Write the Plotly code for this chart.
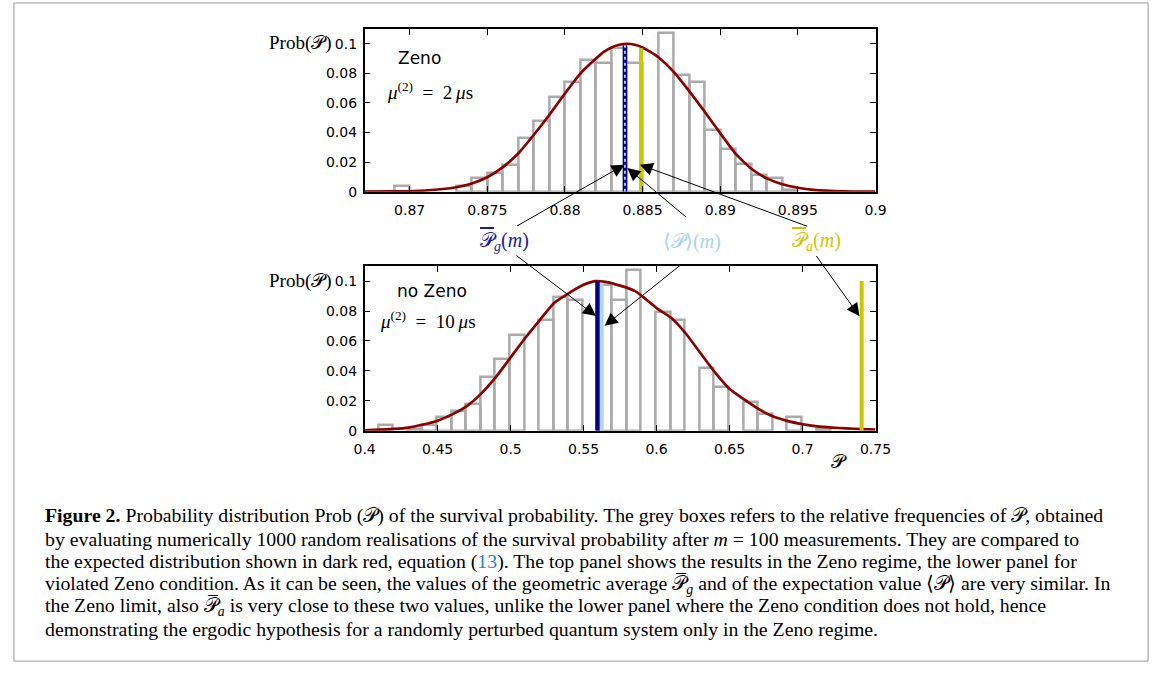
import plotly.graph_objects as go

W, H = 1168, 677
CAL_P = "𝒫"

# ---------------- data: top panel (Zeno, mu2 = 2 us) ----------------
top_bin_left = [0.869, 0.873, 0.874, 0.875, 0.876, 0.877, 0.878, 0.879, 0.880, 0.881,
                0.882, 0.883, 0.884, 0.886, 0.887, 0.888, 0.889, 0.890, 0.891, 0.892,
                0.893, 0.894]
top_freq = [0.004, 0.004, 0.009, 0.013, 0.018, 0.036, 0.048, 0.064, 0.074, 0.089,
            0.087, 0.097, 0.087, 0.107, 0.079, 0.074, 0.042, 0.029, 0.019, 0.011,
            0.009, 0.0015]
top_bin_width = 0.001
top_curve_x = [0.8671, 0.869, 0.871, 0.873, 0.874, 0.875, 0.876, 0.877, 0.878, 0.879,
               0.880, 0.881, 0.882, 0.8825, 0.883, 0.8835, 0.884, 0.8845, 0.885, 0.8855,
               0.886, 0.887, 0.888, 0.889, 0.890, 0.891, 0.892, 0.893, 0.894, 0.895,
               0.896, 0.898, 0.900]
top_curve_y = [0.0, 0.0002, 0.0008, 0.003, 0.0056, 0.0098, 0.0166, 0.026, 0.0385, 0.052,
               0.0664, 0.080, 0.090, 0.0945, 0.0975, 0.0993, 0.100, 0.0993, 0.0975, 0.0945,
               0.091, 0.081, 0.068, 0.054, 0.0395, 0.0255, 0.0155, 0.009, 0.005, 0.0027,
               0.0013, 0.0003, 0.0]
top_Pg, top_Pg_h = 0.88386, 0.099
top_mean, top_mean_h = 0.88386, 0.099
top_Pa, top_Pa_h = 0.8849, 0.097
top_xticks = [0.87, 0.875, 0.88, 0.885, 0.89, 0.895, 0.9]
top_xticktext = ["0.87", "0.875", "0.88", "0.885", "0.89", "0.895", "0.9"]

# ---------------- data: bottom panel (no Zeno, mu2 = 10 us) ----------------
bot_bin_left = [0.4093, 0.4293, 0.4393, 0.4493, 0.4593, 0.4693, 0.4793, 0.4893, 0.4993,
                0.5193, 0.5293, 0.5393, 0.5593, 0.5693, 0.5793, 0.5993, 0.6093, 0.6293,
                0.6393, 0.6593, 0.6693, 0.6893, 0.7093]
bot_freq = [0.004, 0.0012, 0.004, 0.009, 0.013, 0.018, 0.036, 0.048, 0.064,
            0.074, 0.089, 0.087, 0.097, 0.087, 0.107, 0.079, 0.074, 0.042,
            0.029, 0.019, 0.011, 0.009, 0.0012]
bot_bin_width = 0.01
bot_curve_x = [0.40, 0.41, 0.42, 0.43, 0.44, 0.45, 0.46, 0.47, 0.48, 0.49, 0.50, 0.51,
               0.52, 0.53, 0.54, 0.55, 0.558, 0.565, 0.575, 0.585, 0.59, 0.60, 0.61,
               0.62, 0.63, 0.64, 0.65, 0.66, 0.67, 0.68, 0.69, 0.70, 0.71, 0.72, 0.73,
               0.74, 0.75]
bot_curve_y = [0.0003, 0.0008, 0.0013, 0.0022, 0.0042, 0.0068, 0.011, 0.0165, 0.025,
               0.036, 0.049, 0.062, 0.074, 0.0855, 0.092, 0.0975, 0.100, 0.0995, 0.097,
               0.0935, 0.090, 0.082, 0.0755, 0.065, 0.052, 0.039, 0.028, 0.021, 0.0145,
               0.0095, 0.0065, 0.0044, 0.003, 0.0022, 0.0016, 0.0012, 0.0009]
bot_Pg, bot_Pg_h = 0.5595, 0.100
bot_mean, bot_mean_h = 0.5624, 0.098
bot_Pa, bot_Pa_h = 0.7405, 0.100
bot_xticks = [0.4, 0.45, 0.5, 0.55, 0.6, 0.65, 0.7, 0.75]
bot_xticktext = ["0.4", "0.45", "0.5", "0.55", "0.6", "0.65", "0.7", "0.75"]

yticks = [0, 0.02, 0.04, 0.06, 0.08, 0.1]
yticktext = ["0", "0.02", "0.04", "0.06", "0.08", "0.1"]

# ---------------- styles ----------------
GREY = "#aaaaaa"
DARKRED = "#8b0000"
NAVY = "#000080"
LIGHTBLUE = "#add8e6"
YELLOW = "#c8c800"
SANS = "DejaVu Sans"
SERIF = "Liberation Serif"


def px_x(p):
    return p / W


def px_y(p):
    return 1 - p / H


fig = go.Figure()

def add_panel(xa, ya, bins, freq, width, cx, cy, lines):
    fig.add_trace(go.Bar(x=[b + width / 2 for b in bins], y=freq, width=width,
                         marker=dict(color="rgba(255,255,255,0)",
                                     line=dict(color=GREY, width=2.5)),
                         xaxis=xa, yaxis=ya, hoverinfo="skip"))
    fig.add_trace(go.Scatter(x=cx, y=cy, mode="lines",
                             line=dict(color=DARKRED, width=2.7, shape="spline", smoothing=0.5),
                             xaxis=xa, yaxis=ya, hoverinfo="skip"))
    for (v, h, col, w, dash) in lines:
        fig.add_trace(go.Scatter(x=[v, v], y=[0, h], mode="lines",
                                 line=dict(color=col, width=w, dash=dash),
                                 xaxis=xa, yaxis=ya, hoverinfo="skip"))

add_panel("x", "y", top_bin_left, top_freq, top_bin_width, top_curve_x, top_curve_y,
          [(top_Pa, top_Pa_h, YELLOW, 4, "solid"),
           (top_Pg, top_Pg_h, NAVY, 4.5, "solid"),
           (top_mean, top_mean_h, "#cfe6ff", 1.6, "dot")])
add_panel("x2", "y2", bot_bin_left, bot_freq, bot_bin_width, bot_curve_x, bot_curve_y,
          [(bot_mean, bot_mean_h, LIGHTBLUE, 4, "solid"),
           (bot_Pg, bot_Pg_h, NAVY, 4.5, "solid"),
           (bot_Pa, bot_Pa_h, YELLOW, 4, "solid")])

axis_common = dict(showgrid=False, zeroline=False, showline=True, linecolor="black",
                   linewidth=1.5, mirror="ticks", ticks="inside", ticklen=6,
                   tickwidth=1, tickcolor="black",
                   tickfont=dict(family=SANS, size=14, color="black"))

fig.update_layout(
    width=W, height=H, autosize=False, margin=dict(l=0, r=0, t=0, b=0, pad=0),
    paper_bgcolor="white", plot_bgcolor="white", showlegend=False, bargap=0,
    xaxis=dict(domain=[px_x(362), px_x(885)], range=[0.8671, 0.9], anchor="y",
               tickvals=top_xticks, ticktext=top_xticktext, ticklabelstandoff=5,
               **axis_common),
    yaxis=dict(domain=[px_y(194), px_y(29.3)], range=[0, 0.11], anchor="x",
               tickvals=yticks, ticktext=yticktext, ticklabelstandoff=3, **axis_common),
    xaxis2=dict(domain=[px_x(362), px_x(885)], range=[0.4, 0.75], anchor="y2",
                tickvals=bot_xticks, ticktext=bot_xticktext, ticklabelstandoff=5,
                **axis_common),
    yaxis2=dict(domain=[px_y(436), px_y(269.3)], range=[0, 0.11], anchor="x2",
                tickvals=yticks, ticktext=yticktext, ticklabelstandoff=3, **axis_common),
)

ann = []

def text(xp, yp, s, size=17, family=SERIF, color="black", xanchor="center", yanchor="middle"):
    ann.append(dict(x=px_x(xp), y=px_y(yp), xref="paper", yref="paper", text=s,
                    showarrow=False, xanchor=xanchor, yanchor=yanchor,
                    font=dict(family=family, size=size, color=color)))

# panel texts
text(331, 44, "Prob(" + CAL_P + ")", size=19, xanchor="right")
text(331, 284, "Prob(" + CAL_P + ")", size=19, xanchor="right")
text(418, 59, "Zeno", size=17, family=SANS)
text(431, 294, "no Zeno", size=17, family=SANS)
text(429, 92, "<i>μ</i><sup>(2)</sup>\u2002=\u20022\u2009<i>μ</i>s", size=19)
text(427, 324, "<i>μ</i><sup>(2)</sup>\u2002=\u200210\u2009<i>μ</i>s", size=19)
OVP = "<span style='text-decoration:overline'>" + CAL_P + "</span>"
text(505, 244, OVP + "<sub><i>g</i></sub>(<i>m</i>)", size=20, color="#1c1c9c")
text(697, 244, "⟨" + CAL_P + "⟩(<i>m</i>)", size=20, color="#a9d6ea")
text(825, 244, OVP + "<sub><i>a</i></sub>(<i>m</i>)", size=20, color=YELLOW)
text(848, 467, CAL_P, size=19)

# arrows (tip -> tail in data coordinates of each panel)
def arrow(xr, yr, x, y, ax, ay):
    ann.append(dict(x=x, y=y, ax=ax, ay=ay, xref=xr, yref=yr, axref=xr, ayref=yr,
                    showarrow=True, arrowhead=2, arrowsize=2.6, arrowwidth=1,
                    arrowcolor="black", standoff=0, text=""))

arrow("x", "y", 0.88384, 0.0183, 0.87682, -0.0237)
arrow("x", "y", 0.88401, 0.0161, 0.88789, -0.0179)
arrow("x", "y", 0.88482, 0.0183, 0.89569, -0.0237)
arrow("x2", "y2", 0.5585, 0.0767, 0.5030, 0.1178)
arrow("x2", "y2", 0.5644, 0.0701, 0.6170, 0.1112)
arrow("x2", "y2", 0.7390, 0.0765, 0.7087, 0.1178)

# caption
OVC = CAL_P + "\u0305"
cap = [
    "<b>Figure 2.</b> Probability distribution Prob (" + CAL_P + ") of the survival probability. The grey boxes refers to the relative frequencies of " + CAL_P + ", obtained",
    "by evaluating numerically 1000 random realisations of the survival probability after <i>m</i> = 100 measurements. They are compared to",
    "the expected distribution shown in dark red, equation (<span style='color:#2a7fc1'>13</span>). The top panel shows the results in the Zeno regime, the lower panel for",
    "violated Zeno condition. As it can be seen, the values of the geometric average " + OVC + "<sub><i>g</i></sub> and of the expectation value ⟨" + CAL_P + "⟩ are very similar. In",
    "the Zeno limit, also " + OVC + "<sub><i>a</i></sub> is very close to these two values, unlike the lower panel where the Zeno condition does not hold, hence",
    "demonstrating the ergodic hypothesis for a randomly perturbed quantum system only in the Zeno regime.",
]
for i, line in enumerate(cap):
    text(33, 522 + 23 * i, line, size=19.8, xanchor="left")

fig.update_layout(annotations=ann)
fig.add_shape(type="rect", xref="paper", yref="paper", x0=px_x(3), x1=px_x(1164),
              y0=px_y(669), y1=px_y(3), line=dict(color="#999999", width=1))

fig.write_html("out.html", post_script="document.body.style.margin='0';",
               config={"displayModeBar": False, "responsive": False})
